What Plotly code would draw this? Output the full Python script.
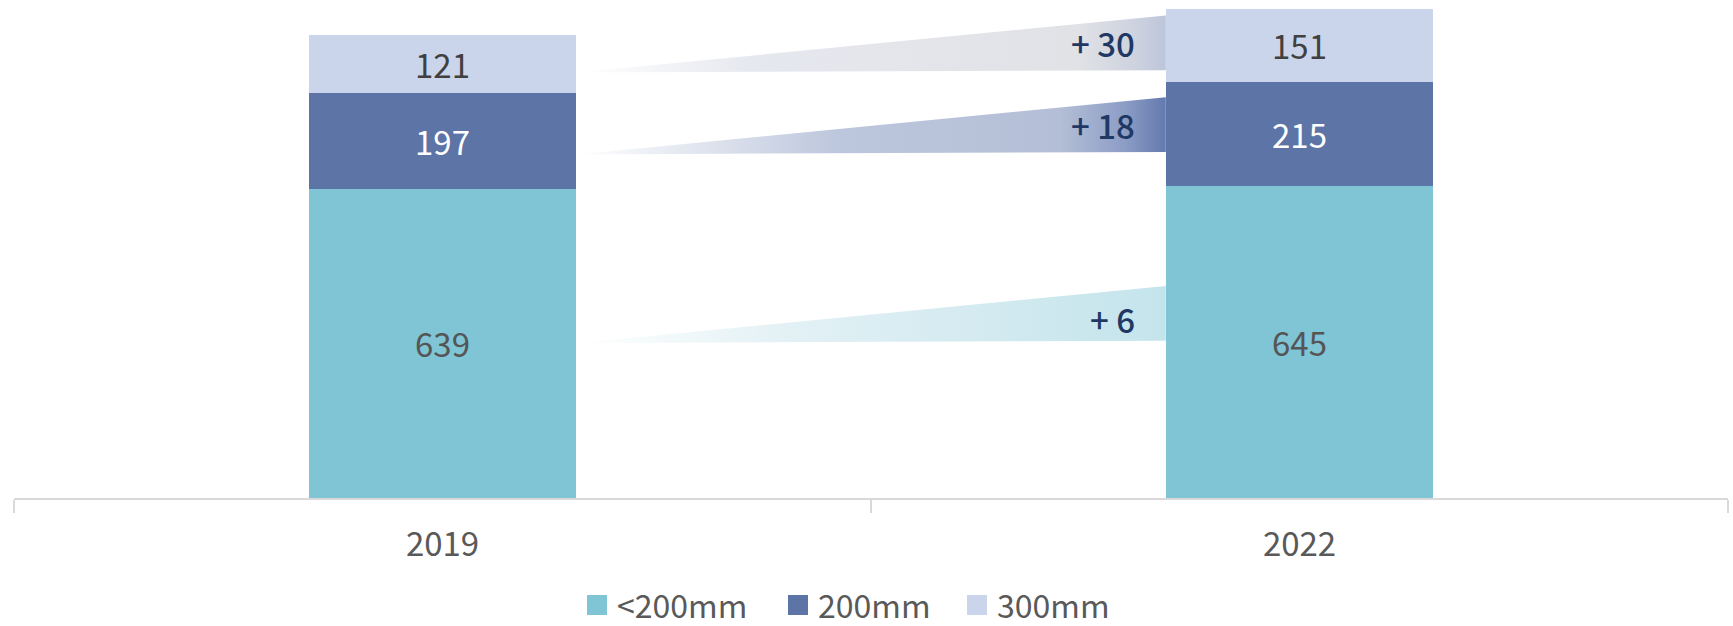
import plotly.graph_objects as go

# Wafer capacity by size class (stacked), two reference years
years = ["2019", "2022"]
size_classes = ["<200mm", "200mm", "300mm"]
under_200mm = [639, 645]
mm_200 = [197, 215]
mm_300 = [121, 151]

series = [under_200mm, mm_200, mm_300]

# Styling
bar_colors = ["#7FC5D5", "#5D74A6", "#CAD5EB"]
label_colors = ["#555555", "#FFFFFF", "#404040"]
FONT = "Noto Sans CJK KR"
FONT_SIZE = 33
LEGEND_FONT_SIZE = 32
BAR_WIDTH = 0.312

W, H = 1733, 626
M_L, M_R, M_T, M_B = 14, 5, 0, 128
PLOT_W = W - M_L - M_R
PLOT_H = H - M_T - M_B

# Connector wedges between the two bars (decorative, in y-axis units)
connector_base = [320, 710, 879]
connector_rise = 5
connector_height = 113
connector_label_shift = [-6, 0, 0]  # pixel nudge for each change label
connector_fills = [
    [[0.0, "rgba(255,255,255,1)"], [0.35, "#e3f1f5"], [1.0, "#c4e4ec"]],
    [[0.0, "rgba(255,255,255,1)"], [0.45, "#bcc6dc"], [0.82, "#b4bed6"],
     [0.93, "#8c9dc6"], [1.0, "#6479ad"]],
    [[0.0, "rgba(255,255,255,1)"], [0.3, "#e6e8ef"], [0.85, "#e1e2e6"],
     [0.95, "#cdd2df"], [1.0, "#bcc5da"]],
]

# Legend row below the axis (pixel positions of the swatches)
legend_swatch_left = [587, 788, 967]
legend_center_y = 604
SWATCH = 20


def px_to_paper_x(px):
    return (px - M_L) / PLOT_W


def px_to_paper_y(py):
    return (H - M_B - py) / PLOT_H


fig = go.Figure()

# Wedges on an overlaid numeric x axis aligned with the category slots
x_tip = 0 + BAR_WIDTH / 2
x_end = 1 - BAR_WIDTH / 2
for base, fill in zip(connector_base, connector_fills):
    fig.add_trace(go.Scatter(
        x=[x_tip, x_end, x_end, x_tip],
        y=[base, base + connector_rise, base + connector_rise + connector_height, base],
        mode="none",
        fill="toself",
        fillgradient=dict(type="horizontal", colorscale=fill),
        xaxis="x2",
        hoverinfo="skip",
        showlegend=False,
    ))

# Stacked bars
for name, vals, color, tcolor in zip(size_classes, series, bar_colors, label_colors):
    fig.add_trace(go.Bar(
        x=years,
        y=vals,
        name=name,
        width=BAR_WIDTH,
        marker=dict(color=color, line=dict(width=0)),
        text=[str(v) for v in vals],
        textposition="inside",
        insidetextanchor="middle",
        textangle=0,
        textfont=dict(family=FONT, size=FONT_SIZE, color=tcolor),
        hoverinfo="skip",
        showlegend=False,
    ))

# Change labels at the right end of each wedge
for base, shift, vals in zip(connector_base, connector_label_shift, series):
    fig.add_annotation(
        x=0.81, xref="x2", xanchor="right",
        y=base + connector_rise + connector_height / 2, yref="y",
        yanchor="middle", yshift=shift,
        text=f"+ {vals[1] - vals[0]}",
        showarrow=False,
        font=dict(family=FONT, size=FONT_SIZE, color="#1F3864", weight=500),
    )

# Legend: colour swatch + label for each size class
for name, color, left in zip(size_classes, bar_colors, legend_swatch_left):
    fig.add_shape(
        type="rect", xref="paper", yref="paper",
        x0=px_to_paper_x(left), x1=px_to_paper_x(left + SWATCH),
        y0=px_to_paper_y(legend_center_y + 1 + SWATCH / 2),
        y1=px_to_paper_y(legend_center_y + 1 - SWATCH / 2),
        fillcolor=color, line=dict(width=0), layer="above",
    )
    fig.add_annotation(
        x=px_to_paper_x(left + SWATCH + 8), xref="paper", xanchor="left",
        y=px_to_paper_y(legend_center_y), yref="paper", yanchor="middle",
        text=name, showarrow=False,
        font=dict(family=FONT, size=LEGEND_FONT_SIZE, color="#595959"),
    )

fig.update_layout(
    width=W,
    height=H,
    margin=dict(l=M_L, r=M_R, t=M_T, b=M_B, autoexpand=False),
    paper_bgcolor="white",
    plot_bgcolor="white",
    barmode="stack",
    showlegend=False,
    font=dict(family=FONT, size=FONT_SIZE, color="#595959"),
    xaxis=dict(
        type="category",
        range=[-0.5, 1.5],
        showline=True,
        linecolor="#D9D9D9",
        linewidth=2,
        ticks="outside",
        tickson="boundaries",
        ticklen=13,
        tickwidth=2,
        tickcolor="#D9D9D9",
        ticklabelstandoff=16,
        tickfont=dict(family=FONT, size=FONT_SIZE, color="#595959"),
        showgrid=False,
        zeroline=False,
    ),
    xaxis2=dict(
        overlaying="x",
        range=[-0.5, 1.5],
        visible=False,
    ),
    yaxis=dict(
        range=[0, 1029],
        visible=False,
        showgrid=False,
        zeroline=False,
    ),
)

fig.write_html("out.html")
